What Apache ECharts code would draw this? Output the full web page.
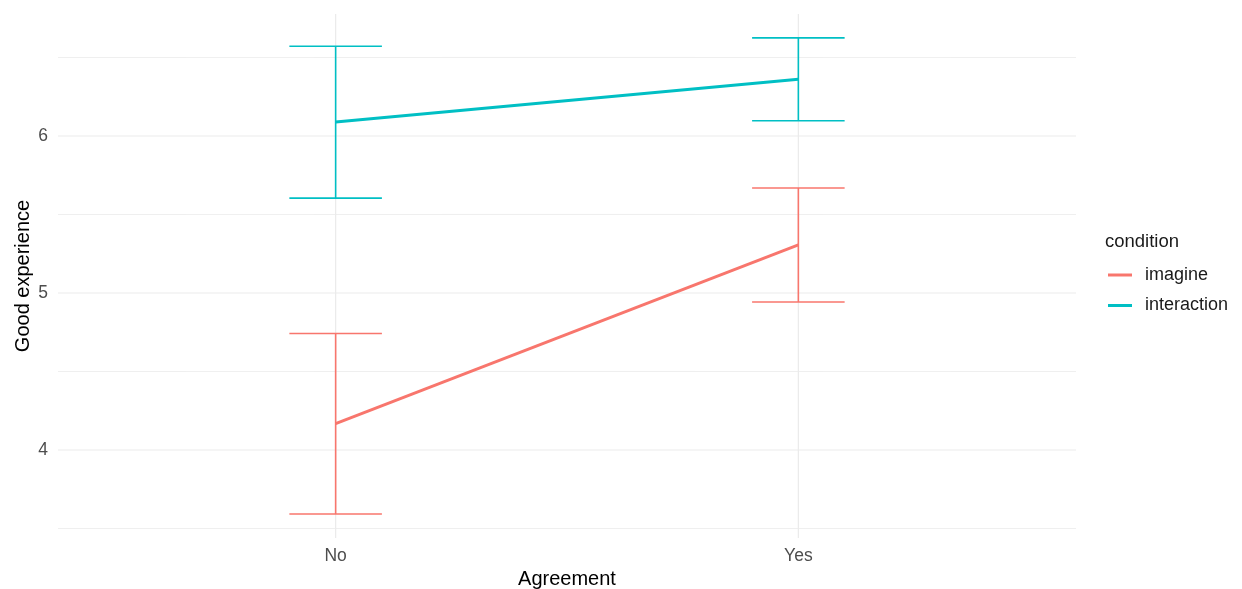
<!DOCTYPE html>
<html>
<head>
<meta charset="utf-8">
<script src="https://cdn.jsdelivr.net/npm/echarts@6/dist/echarts.min.js"></script>
<style>
  html, body { margin: 0; padding: 0; background: #ffffff; overflow: hidden; }
  #chart { width: 1242px; height: 589px; }
</style>
</head>
<body>
<div id="chart"></div>
<script>
// Agreement levels on the x axis
const categories = ['No', 'Yes'];
// Condition names and their colours
const conditions = ['imagine', 'interaction'];
const colors = ['#F8766D', '#00BFC4'];
// Mean "Good experience" per agreement level
const imagineMean = [4.168, 5.306];
const interactionMean = [6.089, 6.362];
// Error bar bounds per agreement level
const imagineLow = [3.592, 4.943];
const imagineHigh = [4.742, 5.669];
const interactionLow = [5.604, 6.097];
const interactionHigh = [6.572, 6.625];
// Y tick labels (major) and minor grid positions
const yMajor = [4, 5, 6];
const yMinor = [3.5, 4.5, 5.5, 6.5];

const means = [imagineMean, interactionMean];
const lows = [imagineLow, interactionLow];
const highs = [imagineHigh, interactionHigh];

const FONT = 'Liberation Sans, Arial, sans-serif';
const gridColor = '#ebebeb';
const capHalf = 0.1; // half cap width, in x-axis units
const X_MIN = 0.4, X_MAX = 2.6;
const Y_MIN = 3.4395, Y_MAX = 6.777;

const series = [];

// panel grid lines, drawn beneath everything
const gridLines = [
  ...yMajor.map(v => ['h', v, 1.2]),
  ...yMinor.map(v => ['h', v, 0.8]),
  ...categories.map((c, i) => ['v', i + 1, 1.2])
];
series.push({
  type: 'custom',
  silent: true,
  z: 0,
  data: gridLines.map((g, i) => [i]),
  renderItem: function (params, api) {
    const g = gridLines[api.value(0)];
    let p1, p2;
    if (g[0] === 'h') {
      p1 = api.coord([X_MIN, g[1]]);
      p2 = api.coord([X_MAX, g[1]]);
    } else {
      p1 = api.coord([g[1], Y_MIN]);
      p2 = api.coord([g[1], Y_MAX]);
    }
    return {
      type: 'line',
      shape: { x1: p1[0], y1: p1[1], x2: p2[0], y2: p2[1] },
      style: { stroke: gridColor, lineWidth: g[2] }
    };
  }
});

conditions.forEach((name, k) => {
  // error bars
  series.push({
    type: 'custom',
    name: name + '-err',
    silent: true,
    z: 3,
    data: categories.map((c, i) => [i + 1, lows[k][i], highs[k][i]]),
    renderItem: function (params, api) {
      const x = api.value(0);
      const lo = api.coord([x, api.value(1)]);
      const hi = api.coord([x, api.value(2)]);
      const l1 = api.coord([x - capHalf, api.value(1)]);
      const r1 = api.coord([x + capHalf, api.value(1)]);
      const l2 = api.coord([x - capHalf, api.value(2)]);
      const r2 = api.coord([x + capHalf, api.value(2)]);
      const style = { stroke: colors[k], lineWidth: 1.6, fill: null };
      return {
        type: 'group',
        children: [
          { type: 'line', shape: { x1: lo[0], y1: lo[1], x2: hi[0], y2: hi[1] }, style: style },
          { type: 'line', shape: { x1: l1[0], y1: l1[1], x2: r1[0], y2: r1[1] }, style: style },
          { type: 'line', shape: { x1: l2[0], y1: l2[1], x2: r2[0], y2: r2[1] }, style: style }
        ]
      };
    }
  });
  // mean lines
  series.push({
    type: 'line',
    name: name,
    z: 4,
    data: categories.map((c, i) => [i + 1, means[k][i]]),
    showSymbol: false,
    symbol: 'none',
    lineStyle: { color: colors[k], width: 3 },
    itemStyle: { color: colors[k] }
  });
});

const option = {
  animation: false,
  backgroundColor: '#ffffff',
  textStyle: { fontFamily: FONT },
  grid: { left: 58, right: 166, top: 14, bottom: 51, containLabel: false, outerBoundsMode: 'none' },
  legend: {
    data: conditions.map((n, k) => ({ name: n, icon: 'rect', itemStyle: { color: colors[k] } })),
    orient: 'vertical',
    left: 1108,
    top: 265,
    padding: 0,
    itemWidth: 24,
    itemHeight: 3,
    itemGap: 10.5,
    textStyle: { fontSize: 18, lineHeight: 20, color: '#1a1a1a', padding: [0, 0, 0, 8] },
    selectedMode: false
  },
  graphic: [
    {
      type: 'text',
      left: 1105,
      top: 232,
      style: { text: 'condition', fontSize: 18.5, fill: '#1a1a1a', fontFamily: FONT }
    }
  ],
  xAxis: {
    type: 'value',
    min: X_MIN,
    max: X_MAX,
    name: 'Agreement',
    nameLocation: 'middle',
    nameGap: 30,
    nameTextStyle: { fontSize: 20, color: '#000000', verticalAlign: 'top' },
    axisLine: { show: false },
    axisTick: { show: false },
    splitLine: { show: false },
    axisLabel: {
      customValues: categories.map((c, i) => i + 1),
      formatter: v => categories[Math.round(v) - 1] || '',
      fontSize: 17.5,
      color: '#4d4d4d',
      margin: 9
    }
  },
  yAxis: {
    type: 'value',
    min: Y_MIN,
    max: Y_MAX,
    name: 'Good experience',
    nameLocation: 'middle',
    nameGap: 25,
    nameRotate: 90,
    nameMoveOverlap: false,
    nameTextStyle: { fontSize: 20, color: '#000000' },
    axisLine: { show: false },
    axisTick: { show: false },
    splitLine: { show: false },
    axisLabel: {
      customValues: yMajor,
      fontSize: 17.5,
      color: '#4d4d4d',
      margin: 10
    }
  },
  series: series
};

const chart = echarts.init(document.getElementById('chart'), null, { renderer: 'canvas' });
chart.setOption(option);
</script>
</body>
</html>
